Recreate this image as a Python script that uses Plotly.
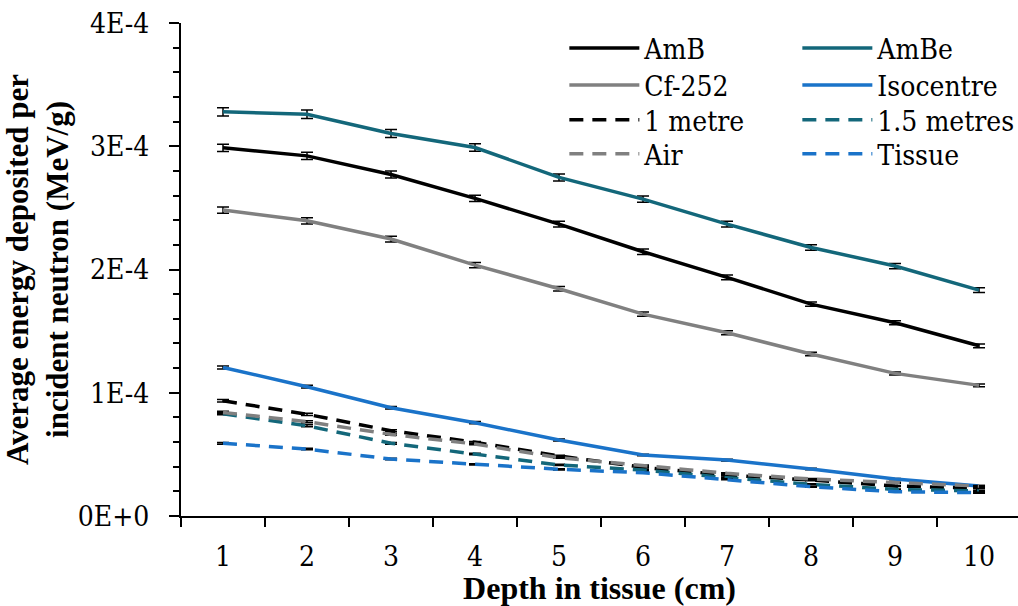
import plotly.graph_objects as go

depth = [1, 2, 3, 4, 5, 6, 7, 8, 9, 10]
x_ticktext = ["1", "2", "3", "4", "5", "6", "7", "8", "9", "10"]

amb = [2.987e-4, 2.922e-4, 2.771e-4, 2.577e-4, 2.368e-4, 2.144e-4, 1.936e-4, 1.719e-4, 1.568e-4, 1.381e-4]
ambe = [3.279e-4, 3.260e-4, 3.104e-4, 2.990e-4, 2.747e-4, 2.571e-4, 2.368e-4, 2.179e-4, 2.028e-4, 1.833e-4]
cf252 = [2.482e-4, 2.395e-4, 2.247e-4, 2.036e-4, 1.844e-4, 1.638e-4, 1.487e-4, 1.314e-4, 1.157e-4, 1.060e-4]
isocentre = [1.205e-4, 1.049e-4, 0.878e-4, 0.757e-4, 0.616e-4, 0.495e-4, 0.454e-4, 0.381e-4, 0.300e-4, 0.243e-4]
one_metre = [0.935e-4, 0.825e-4, 0.692e-4, 0.598e-4, 0.487e-4, 0.395e-4, 0.332e-4, 0.292e-4, 0.243e-4, 0.225e-4]
one_half_metres = [0.830e-4, 0.732e-4, 0.590e-4, 0.503e-4, 0.414e-4, 0.373e-4, 0.311e-4, 0.257e-4, 0.216e-4, 0.203e-4]
air = [0.840e-4, 0.765e-4, 0.662e-4, 0.584e-4, 0.473e-4, 0.408e-4, 0.346e-4, 0.300e-4, 0.270e-4, 0.243e-4]
tissue = [0.590e-4, 0.543e-4, 0.462e-4, 0.419e-4, 0.379e-4, 0.351e-4, 0.298e-4, 0.238e-4, 0.197e-4, 0.189e-4]

err_amb = [3.0e-6, 3.0e-6, 2.8e-6, 2.6e-6, 2.4e-6, 2.2e-6, 2.0e-6, 1.8e-6, 1.6e-6, 1.5e-6]
err_ambe = [3.4e-6, 3.4e-6, 3.2e-6, 3.0e-6, 2.8e-6, 2.6e-6, 2.4e-6, 2.2e-6, 2.1e-6, 1.9e-6]
err_cf252 = [2.6e-6, 2.5e-6, 2.3e-6, 2.1e-6, 1.9e-6, 1.7e-6, 1.6e-6, 1.4e-6, 1.2e-6, 1.1e-6]
err_iso = [1.3e-6, 1.1e-6, 1.0e-6, 0.9e-6, 0.8e-6, 0.7e-6, 0.7e-6, 0.6e-6, 0.5e-6, 0.5e-6]
err_1m = [1.0e-6, 0.9e-6, 0.8e-6, 0.7e-6, 0.6e-6, 0.5e-6, 0.5e-6, 0.5e-6, 0.4e-6, 0.4e-6]
err_15m = [0.9e-6, 0.8e-6, 0.7e-6, 0.6e-6, 0.5e-6, 0.5e-6, 0.5e-6, 0.4e-6, 0.4e-6, 0.4e-6]
err_air = [0.9e-6, 0.8e-6, 0.7e-6, 0.6e-6, 0.5e-6, 0.5e-6, 0.5e-6, 0.4e-6, 0.4e-6, 0.4e-6]
err_tissue = [0.7e-6, 0.6e-6, 0.6e-6, 0.5e-6, 0.5e-6, 0.5e-6, 0.4e-6, 0.4e-6, 0.4e-6, 0.4e-6]

y_tickvals = [0, 1e-4, 2e-4, 3e-4, 4e-4]
y_ticktext = ["0E+0", "1E-4", "2E-4", "3E-4", "4E-4"]

BLACK = "#000000"
TEAL = "#13677a"
GREY = "#808080"
BLUE = "#1a73c9"
SERIF = "DejaVu Serif Condensed, DejaVu Serif, serif"
SERIF_BOLD = "Liberation Serif, DejaVu Serif Condensed, serif"
DASH = "14px,9px"

series = [
    ("AmB", amb, err_amb, BLACK, "solid", "legend"),
    ("AmBe", ambe, err_ambe, TEAL, "solid", "legend"),
    ("Cf-252", cf252, err_cf252, GREY, "solid", "legend2"),
    ("Isocentre", isocentre, err_iso, BLUE, "solid", "legend2"),
    ("1 metre", one_metre, err_1m, BLACK, DASH, "legend3"),
    ("1.5 metres", one_half_metres, err_15m, TEAL, DASH, "legend3"),
    ("Air", air, err_air, GREY, DASH, "legend4"),
    ("Tissue", tissue, err_tissue, BLUE, DASH, "legend4"),
]

fig = go.Figure()
for name, vals, errs, color, dash, leg in series:
    fig.add_trace(go.Scatter(
        x=depth, y=vals, name=name, mode="lines",
        line=dict(color=color, width=3.5, dash=dash),
        error_y=dict(type="data", array=errs, visible=True, color="#000000",
                     thickness=1.5, width=6),
        legend=leg,
    ))

legend_common = dict(
    font=dict(family=SERIF, size=28, color="#000000"),
    bgcolor="rgba(0,0,0,0)", borderwidth=0,
    orientation="h", entrywidth=148, entrywidthmode="pixels",
    xanchor="left", yanchor="middle", itemwidth=70, x=0.458,
)

fig.update_layout(
    width=1018, height=606,
    margin=dict(l=181, r=0, t=23, b=90, autoexpand=False),
    paper_bgcolor="white", plot_bgcolor="white",
    font=dict(family=SERIF, size=28, color="#000000"),
    showlegend=True,
    legend=dict(y=0.9487, **legend_common),
    legend2=dict(y=0.8737, **legend_common),
    legend3=dict(y=0.8030, **legend_common),
    legend4=dict(y=0.7340, **legend_common),
    xaxis=dict(
        range=[0.5, 10.464],
        tickmode="array", tickvals=depth, ticktext=x_ticktext,
        ticks="", ticklabelstandoff=14,
        showline=True, linecolor="#000000", linewidth=2,
        showgrid=False, zeroline=False,
        minor=dict(tickmode="array", tickvals=[0.5, 1.5, 2.5, 3.5, 4.5, 5.5, 6.5, 7.5, 8.5, 9.5, 10.5],
                   ticks="outside", ticklen=9, tickwidth=1.5, tickcolor="#000000", showgrid=False),
        tickfont=dict(family=SERIF, size=28),
        title=dict(text="<b>Depth in tissue (cm)</b>", font=dict(family=SERIF_BOLD, size=32), standoff=2),
    ),
    yaxis=dict(
        range=[0, 4e-4],
        tickmode="array", tickvals=y_tickvals, ticktext=y_ticktext,
        ticks="outside", ticklen=10, tickwidth=1.5, tickcolor="#000000",
        ticklabelstandoff=14,
        showline=True, linecolor="#000000", linewidth=2,
        showgrid=False, zeroline=False,
        minor=dict(dtick=2e-5, ticks="outside", ticklen=6, tickwidth=1.5, tickcolor="#000000", showgrid=False),
        tickfont=dict(family=SERIF, size=28),
        title=dict(text="<b>Average energy deposited per<br>incident neutron (MeV/g)</b>",
                   font=dict(family=SERIF_BOLD, size=31), standoff=12),
    ),
)

fig.write_html("out.html")
